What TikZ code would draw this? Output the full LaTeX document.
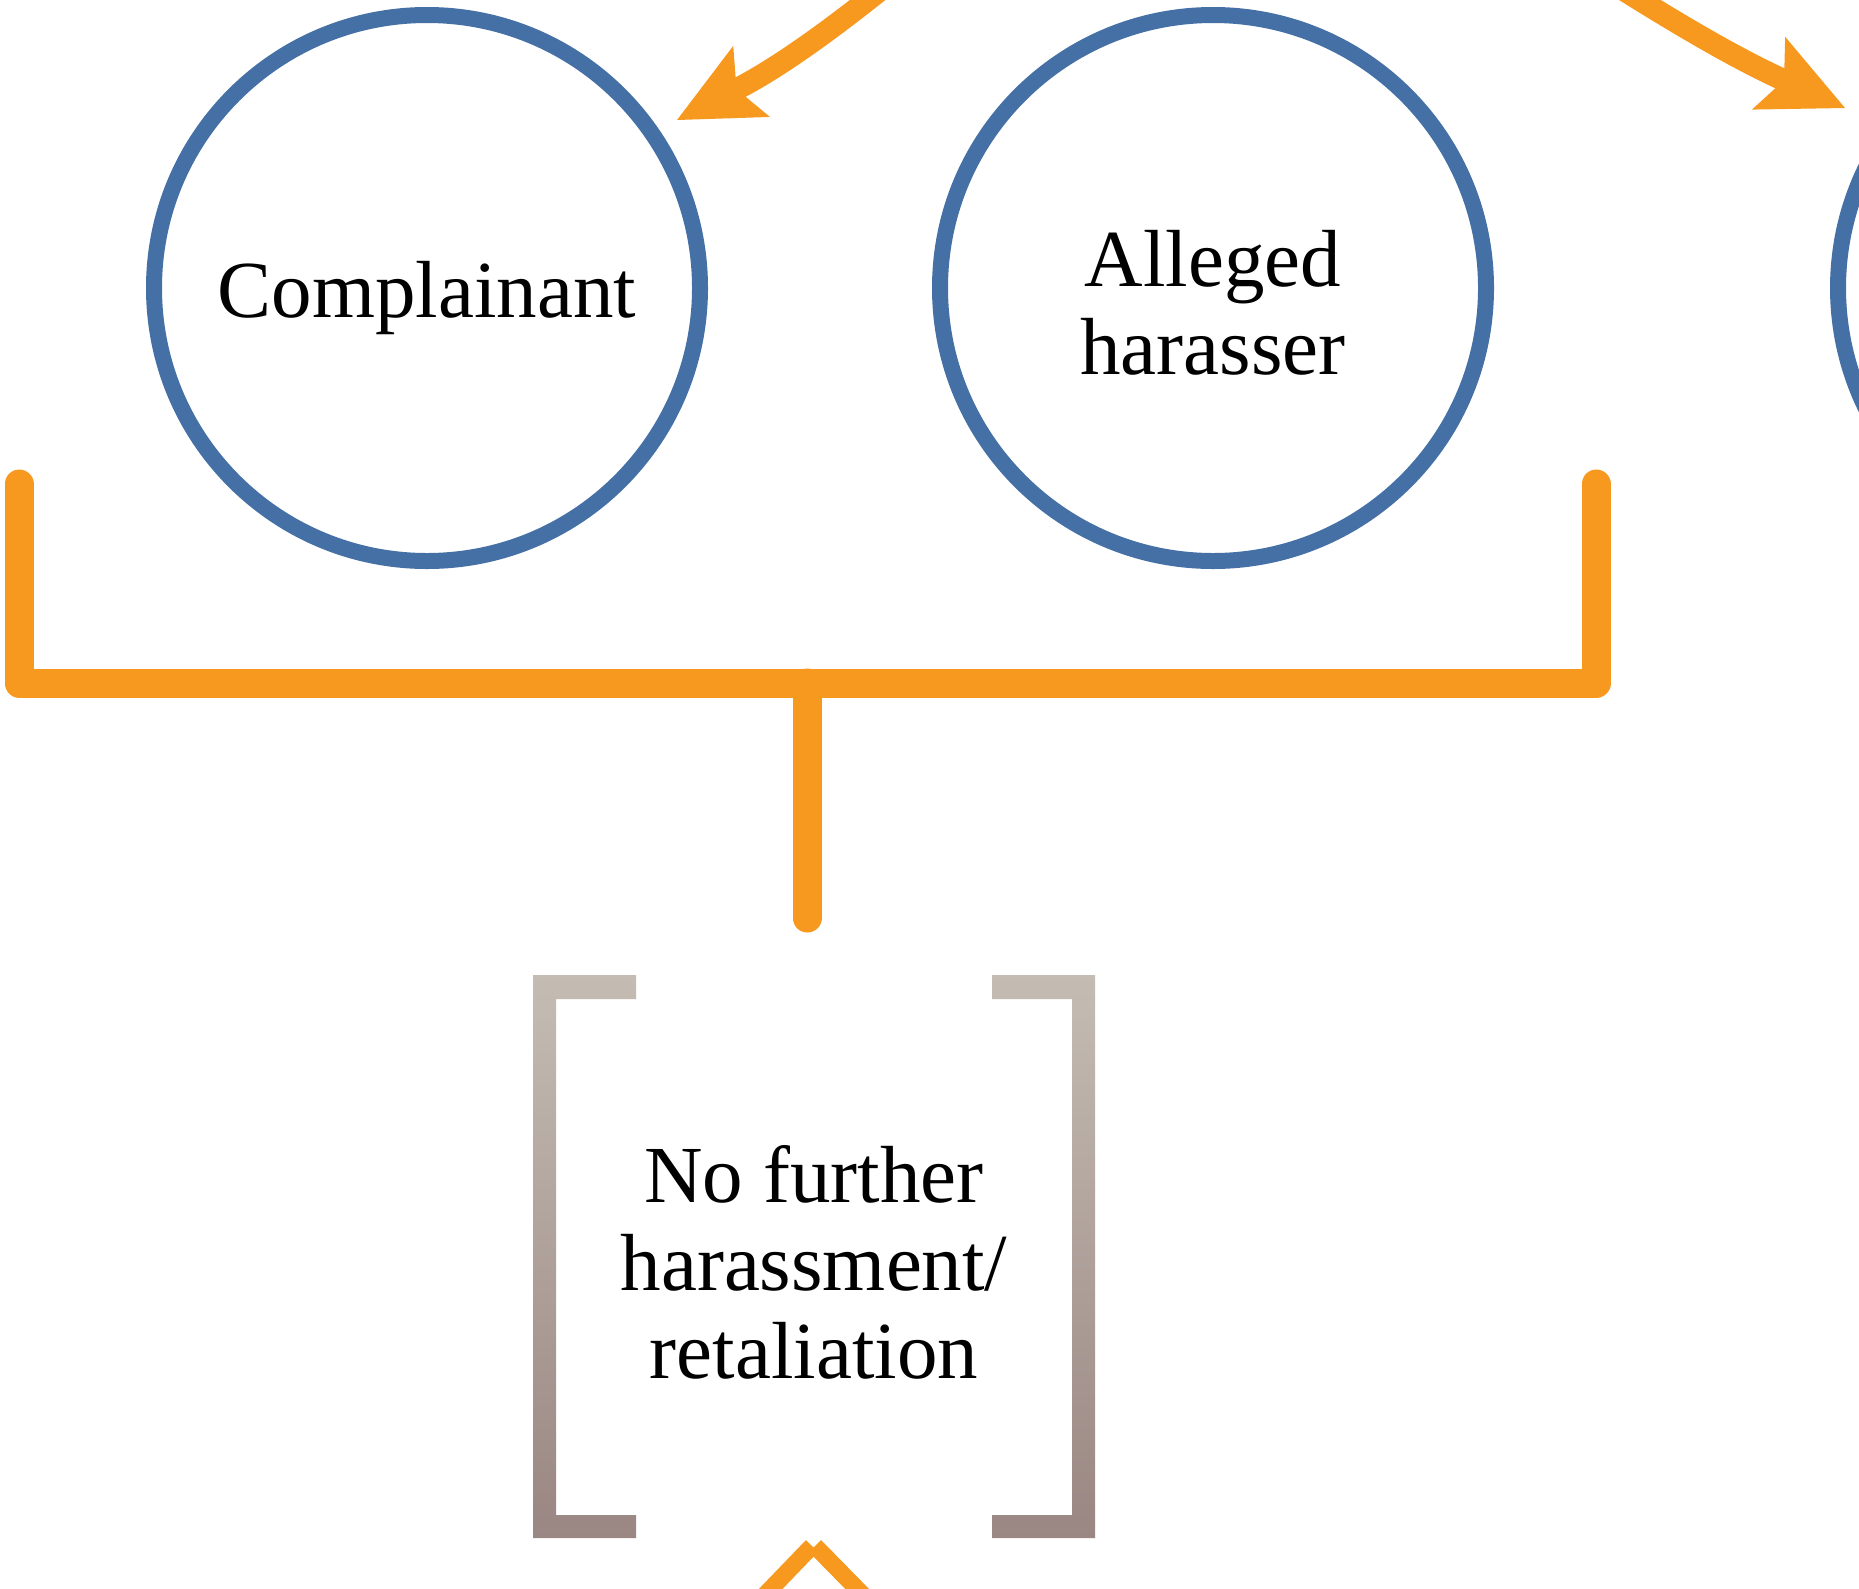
\documentclass[tikz,border=0pt]{standalone}
\usepackage{fontspec}
\setmainfont{Liberation Serif}
\usetikzlibrary{arrows.meta}
\definecolor{orng}{HTML}{F7991F}
\definecolor{blu}{HTML}{4570A6}
\definecolor{gtop}{HTML}{C4BCB3}
\definecolor{gbot}{HTML}{9A8682}
\begin{document}
\begin{tikzpicture}[x=1pt,y=-1pt,
  person/.style={circle,draw=blu,line width=16pt,minimum size=546pt,inner sep=0pt},
  ptext/.style={align=center,inner sep=0pt,font=\fontsize{81}{88}\selectfont},
  goaltext/.style={align=center,inner sep=0pt,font=\fontsize{81}{88}\selectfont},
  bar/.style={draw=orng,line width=29pt,line cap=round,line join=round},
  arr/.style={draw=orng,line width=22pt,-{Stealth[length=84pt,width=80pt,inset=17pt,line width=0pt]}},
  chev/.style={draw=orng,line width=17pt}]
\useasboundingbox (0,0) rectangle (1859,1588);
\begin{scope}
\clip (0,0) rectangle (1859,1588);
% circles
\node[person,label={[ptext,yshift=-10pt]center:Complainant}] (comp) at (427,288) {};
\node[person,label={[ptext,yshift=-15pt]center:{Alleged\\harasser}}] (alleg) at (1213,288) {};
\node[person] (third) at (2111,288) {};
% incoming arrows from above
\coordinate (s1) at (905,-30);
\coordinate (t1) at (677,120);
\coordinate (s2) at (1600,-25);
\coordinate (t2) at (1845,108);
\draw[arr] (s1) to[bend left=6] (t1);
\draw[arr] (s2) to[bend right=4] (t2);
% orange bracket joining the two
\coordinate (bl) at (19,484);
\coordinate (br) at (1596,484);
\coordinate (bj) at (807,683);
\coordinate (se) at (807,918);
\draw[bar] (bl) |- (bj) -| (br);
\draw[bar] (bj) -- (se);
% goal node with grey brackets
\node[goaltext] (goal) at (814,1262) {No further\\harassment/\\retaliation};
\shade[top color=gtop,bottom color=gbot]
  (533,975) -- (636,975) -- (636,999) -- (556,999) -- (556,1515) -- (636,1515) -- (636,1538) -- (533,1538) -- cycle
  (1095,975) -- (992,975) -- (992,999) -- (1072,999) -- (1072,1515) -- (992,1515) -- (992,1538) -- (1095,1538) -- cycle;
% chevron at the bottom
\coordinate (cl) at (760,1600);
\coordinate (ca) at (812,1546);
\coordinate (cb) at (815,1546);
\coordinate (cr) at (868,1600);
\draw[chev] (cl) -- (ca);
\draw[chev] (cb) -- (cr);
\end{scope}
\end{tikzpicture}
\end{document}
